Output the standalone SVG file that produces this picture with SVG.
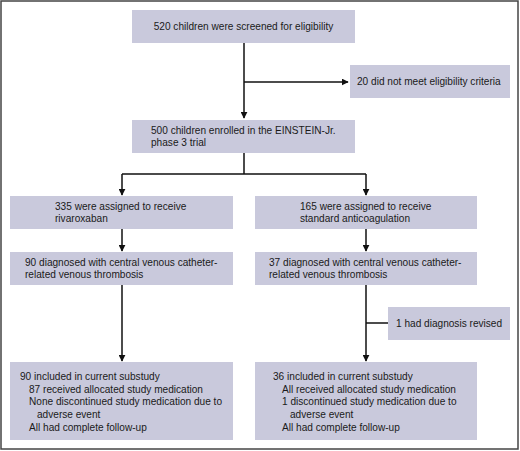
<svg xmlns="http://www.w3.org/2000/svg" width="520" height="451" viewBox="0 0 520 451">
<defs>
<style>
.box{fill:#c9c9dc;}
.t{font-family:"Liberation Sans",Arial,sans-serif;font-size:10.1px;fill:#1a1a1a;}
.c{stroke:#111;stroke-width:1.5;fill:none;}
</style>
<marker id="ah" viewBox="0 0 10 10" refX="9" refY="5" markerWidth="7" markerHeight="7" markerUnits="userSpaceOnUse" orient="auto">
<path d="M0,0 L10,5 L0,10 z" fill="#111"/>
</marker>
</defs>
<rect x="1" y="1" width="517" height="448" fill="#fff" stroke="#444" stroke-width="1.5"/>
<g id="connectors">
<path class="c" d="M244,43 V118" marker-end="url(#ah)"/>
<path class="c" d="M244,82 H348" marker-end="url(#ah)"/>
<path class="c" d="M244,153 V174 M122,174 H366"/>
<path class="c" d="M122,174 V195" marker-end="url(#ah)"/>
<path class="c" d="M366,174 V195" marker-end="url(#ah)"/>
<path class="c" d="M122,229 V251" marker-end="url(#ah)"/>
<path class="c" d="M366,229 V251" marker-end="url(#ah)"/>
<path class="c" d="M122,285 V361" marker-end="url(#ah)"/>
<path class="c" d="M366,285 V361" marker-end="url(#ah)"/>
<path class="c" d="M366,323 H388"/>
</g>
<g id="n1"><rect class="box" x="132" y="10" width="223" height="33"/><text class="t" x="243.5" y="29.5" text-anchor="middle">520 children were screened for eligibility</text></g>
<g id="n2"><rect class="box" x="350" y="65" width="160" height="33"/><text class="t" x="357" y="85">20 did not meet eligibility criteria</text></g>
<g id="n3"><rect class="box" x="132" y="120" width="223" height="33"/><text class="t" x="151" y="134">500 children enrolled in the EINSTEIN-Jr.</text><text class="t" x="151" y="146">phase 3 trial</text></g>
<g id="n4"><rect class="box" x="10" y="196" width="223" height="33"/><text class="t" x="55" y="210">335 were assigned to receive</text><text class="t" x="55" y="222">rivaroxaban</text></g>
<g id="n5"><rect class="box" x="255" y="196" width="222" height="33"/><text class="t" x="300" y="210">165 were assigned to receive</text><text class="t" x="300" y="222">standard anticoagulation</text></g>
<g id="n6"><rect class="box" x="10" y="252" width="223" height="33"/><text class="t" x="25" y="266">90 diagnosed with central venous catheter-</text><text class="t" x="25" y="278">related venous thrombosis</text></g>
<g id="n7"><rect class="box" x="255" y="252" width="222" height="33"/><text class="t" x="269" y="266">37 diagnosed with central venous catheter-</text><text class="t" x="269" y="278">related venous thrombosis</text></g>
<g id="n8"><rect class="box" x="388" y="307" width="122" height="33"/><text class="t" x="396" y="327">1 had diagnosis revised</text></g>
<g id="n9"><rect class="box" x="10" y="362" width="223" height="78"/>
<text class="t" x="20" y="379.5">90 included in current substudy</text>
<text class="t" x="29" y="392.5">87 received allocated study medication</text>
<text class="t" x="29" y="405">None discontinued study medication due to</text>
<text class="t" x="37" y="417.5">adverse event</text>
<text class="t" x="29" y="430.5">All had complete follow-up</text></g>
<g id="n10"><rect class="box" x="255" y="362" width="222" height="78"/>
<text class="t" x="273" y="379.5">36 included in current substudy</text>
<text class="t" x="282" y="392.5">All received allocated study medication</text>
<text class="t" x="282" y="405">1 discontinued study medication due to</text>
<text class="t" x="290" y="417.5">adverse event</text>
<text class="t" x="282" y="430.5">All had complete follow-up</text></g>
</svg>
